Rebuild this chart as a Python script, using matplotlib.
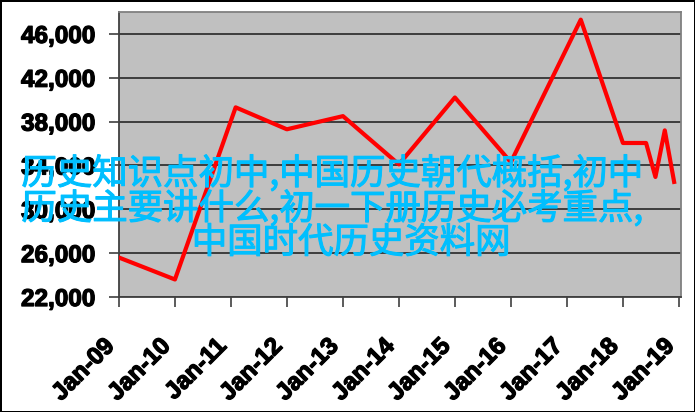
import matplotlib
matplotlib.use("Agg")
import matplotlib.pyplot as plt
import matplotlib.dates as mdates
import matplotlib.patheffects as pe
import datetime as dt

# データ
dates = ["2009-01", "2010-01", "2011-02", "2012-01", "2013-01", "2014-01",
         "2015-01", "2016-01", "2017-04", "2018-01", "2018-06", "2018-08",
         "2018-10", "2018-12"]
values = [25600, 23600, 39300, 37300, 38500, 34100,
          40200, 34300, 47300, 36050, 36050, 32950,
          37200, 32500]

y_ticks = [22000, 26000, 30000, 34000, 38000, 42000, 46000]
x_tick_years = list(range(2009, 2020))

overlay_lines = ["历史知识点初中,中国历史朝代概括,初中",
                 "历史主要讲什么,初一下册历史必考重点,",
                 "中国时代历史资料网"]

x = [dt.datetime.strptime(d, "%Y-%m") for d in dates]

fig = plt.figure(figsize=(6.95, 4.12), dpi=100, facecolor="white",
                 edgecolor="black", linewidth=2)
ax = fig.add_axes([0.1712, 0.2791, 0.8087, 0.6918])
ax.set_facecolor("#C0C0C0")

ax.plot(x, values, color="#FF0000", linewidth=3, zorder=3)

ax.set_ylim(22000, 48000)
ax.set_xlim(dt.datetime(2009, 1, 1), dt.datetime(2019, 1, 15))
ax.set_yticks(y_ticks)
ax.set_yticklabels([f"{v:,}" for v in y_ticks])
ax.set_xticks([dt.datetime(y, 1, 1) for y in x_tick_years])
ax.xaxis.set_major_formatter(mdates.DateFormatter("%b-%y"))

ax.yaxis.grid(True, color="#333333", linewidth=1.3)
ax.set_axisbelow(True)

for s in ["left", "bottom"]:
    ax.spines[s].set_color("#404040")
    ax.spines[s].set_linewidth(1.3)
for s in ["top", "right"]:
    ax.spines[s].set_color("#808080")
    ax.spines[s].set_linewidth(1.3)

# 太めの目盛り文字
thick = [pe.withStroke(linewidth=0.9, foreground="black")]
ax.tick_params(axis="y", length=7, width=1.2, color="#404040", pad=10)
ax.tick_params(axis="x", length=7, width=1.2, color="#404040", pad=20)
for lab in ax.get_yticklabels():
    lab.set_fontfamily("Liberation Sans")
    lab.set_fontweight("bold")
    lab.set_fontsize(17.5)
    lab.set_path_effects(thick)
for lab in ax.get_xticklabels():
    lab.set_fontfamily("Liberation Sans")
    lab.set_fontweight("bold")
    lab.set_fontsize(17.5)
    lab.set_rotation(45)
    lab.set_ha("right")
    lab.set_path_effects(thick)

# 水色の重ね文字
centers_x = [332, 332, 351]
centers_y = [174, 209, 243]
for line, cx, cy in zip(overlay_lines, centers_x, centers_y):
    fig.text(cx / 695, 1 - cy / 412, line, ha="center", va="center",
             fontsize=25.5, color="#00BFFF",
             family=["Noto Sans CJK SC", "DejaVu Sans"], zorder=10,
             path_effects=[pe.withStroke(linewidth=0.8, foreground="#00BFFF")])

fig.savefig("out.png", dpi=100, facecolor="white", edgecolor="black")
